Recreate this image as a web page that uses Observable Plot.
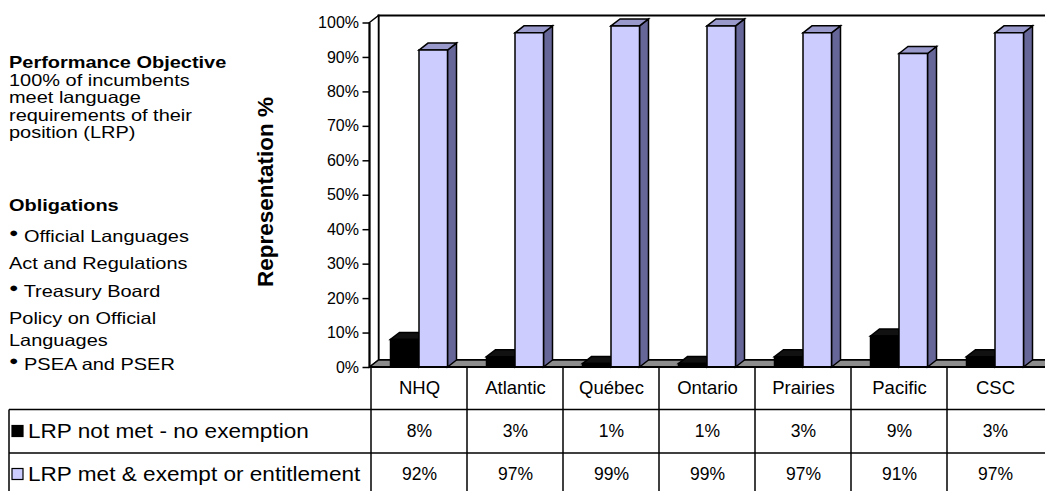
<!DOCTYPE html>
<html>
<head>
<meta charset="utf-8">
<script src="https://cdn.jsdelivr.net/npm/d3@7"></script>
<script src="https://cdn.jsdelivr.net/npm/@observablehq/plot@0.6"></script>
<style>
  html, body { margin: 0; padding: 0; background: #fff; }
  #chart { width: 1045px; height: 491px; overflow: hidden; }
  #chart svg g[aria-label="y-axis tick"] { stroke-width: 1.5px; }
</style>
</head>
<body>
<div id="chart"></div>
<script>
// Regions and language-requirement results (% of incumbents)
const regions = ["NHQ", "Atlantic", "Québec", "Ontario", "Prairies", "Pacific", "CSC"];
const notMet = [8, 3, 1, 1, 3, 9, 3];
const met = [92, 97, 99, 99, 97, 91, 97];
const seriesNames = ["LRP not met - no exemption", "LRP met & exempt or entitlement"];
const yTicks = [0, 10, 20, 30, 40, 50, 60, 70, 80, 90, 100];
const yTitle = "Representation %";

// Side notes
const objectiveTitle = "Performance Objective";
const objectiveLines = ["100% of incumbents", "meet language", "requirements of their", "position (LRP)"];
const obligationsTitle = "Obligations";
const obligations = [
  ["Official Languages", "Act and Regulations"],
  ["Treasury Board", "Policy on Official", "Languages"],
  ["PSEA and PSER"]
];

const W = 1045, H = 491;
const DX = 9, DY = -7;          // depth offset of the 3-D columns
const BW = 28.5;                // column face width
const FONT = "'Liberation Sans', Arial, Helvetica, sans-serif";
const NOTE_WIDEN = 1.21;        // notes are set in a slightly widened face
const KEY_WIDEN = 1.13;

const shades = [
  {front: "#000000", top: "#111111", side: "#000000"},
  {front: "#CCCCFF", top: "#9999CC", side: "#666699"}
];

const rows = regions.flatMap((region, i) => [
  {region, series: 0, value: notMet[i]},
  {region, series: 1, value: met[i]}
]);

// 3-D walls, floor, columns and data-table grid
function scene(index, scales, values, dims) {
  const {x, y} = scales;
  const {width, marginLeft} = dims;
  const bw = x.bandwidth ? x.bandwidth() : (width - marginLeft) / regions.length;
  const x0 = marginLeft, x1 = width + 20;
  const yTop = y(100), yBase = y(0);
  const g = d3.create("svg:g").attr("stroke", "#000").attr("stroke-linejoin", "miter");
  const poly = (pts, fill, sw = 1.5) => g.append("polygon")
    .attr("points", pts.map(p => p.join(",")).join(" "))
    .attr("fill", fill).attr("stroke-width", sw);

  poly([[x0 + DX, yTop + DY], [x1, yTop + DY], [x1, yBase + DY], [x0 + DX, yBase + DY]], "#fff", 2);
  poly([[x0, yTop], [x0 + DX, yTop + DY], [x0 + DX, yBase + DY], [x0, yBase]], "#fff", 1.5);
  poly([[x0, yBase], [x0 + DX, yBase + DY], [x1, yBase + DY], [x1, yBase]], "#8c8c8c", 1.5);
  g.append("line").attr("x1", x0).attr("x2", x0).attr("y1", yTop).attr("y2", yBase).attr("stroke-width", 2);

  regions.forEach((r, i) => {
    const m = x(r) + bw / 2;
    [[notMet[i], m - BW, m, shades[0]], [met[i], m, m + BW, shades[1]]].forEach(([v, xl, xr, c]) => {
      const yt = y(v);
      poly([[xr, yt], [xr + DX, yt + DY], [xr + DX, yBase + DY], [xr, yBase]], c.side);
      poly([[xl, yt], [xl + DX, yt + DY], [xr + DX, yt + DY], [xr, yt]], c.top);
      poly([[xl, yt], [xr, yt], [xr, yBase], [xl, yBase]], c.front);
    });
  });

  // data table grid
  const tLeft = 9, r1 = 409.5, r2 = 453;
  g.append("line").attr("x1", x0).attr("x2", x1).attr("y1", yBase).attr("y2", yBase).attr("stroke-width", 2);
  [r1, r2].forEach(yy => g.append("line").attr("x1", tLeft).attr("x2", x1).attr("y1", yy).attr("y2", yy).attr("stroke-width", 1.5));
  g.append("line").attr("x1", tLeft).attr("x2", tLeft).attr("y1", r1).attr("y2", H + 5).attr("stroke-width", 1.5);
  regions.forEach(r => g.append("line").attr("x1", x(r)).attr("x2", x(r)).attr("y1", yBase).attr("y2", H + 5).attr("stroke-width", 1.5));

  // legend keys and row labels
  [431, 474].forEach((cy, s) => {
    g.append("rect").attr("x", 12).attr("y", cy - 5.5).attr("width", 11).attr("height", 11)
      .attr("fill", shades[s].front).attr("stroke-width", 1.2);
    g.append("text").attr("transform", `translate(28,${cy}) scale(${KEY_WIDEN},1)`).attr("dy", "0.36em")
      .attr("stroke", "none").attr("fill", "#000").attr("text-anchor", "start")
      .attr("font-family", FONT).attr("font-size", 20).text(seriesNames[s]);
  });
  return g.node();
}

// Left-hand notes and the rotated value-axis title
function notes() {
  const g = d3.create("svg:g").attr("font-family", FONT).attr("fill", "#000").attr("text-anchor", "start");
  const tx = 9;
  const line = (text, cy, bold) => g.append("text")
    .attr("transform", `translate(${tx},${cy}) scale(${NOTE_WIDEN},1)`).attr("dy", "0.36em")
    .attr("font-size", 16.5).attr("font-weight", bold ? "bold" : null).text(text);
  line(objectiveTitle, 62, true);
  objectiveLines.forEach((t, i) => line(t, 80 + i * 17.5));
  line(obligationsTitle, 205, true);
  const starts = [241, 296, 369];
  const gaps = 22;
  obligations.forEach((para, p) => {
    para.forEach((t, j) => {
      const el = line("", starts[p] + j * gaps);
      if (j === 0) {
        el.append("tspan").attr("font-size", 13).attr("dy", "-0.3em").text("\u25CF");
        el.append("tspan").attr("dy", "0.3em").text(" " + t);
      } else {
        el.text(t);
      }
    });
  });
  g.append("text")
    .attr("transform", `translate(265,192) rotate(-90)`)
    .attr("text-anchor", "middle").attr("dy", "0.36em")
    .attr("font-size", 22.5).attr("font-weight", "bold").text(yTitle);
  return g.node();
}

const cell = {frameAnchor: "bottom", lineAnchor: "middle", fill: "#000"};

const plot = Plot.plot({
  width: W,
  height: H,
  marginLeft: 369.5,
  marginRight: 0,
  marginTop: 22.5,
  marginBottom: H - 367,
  style: {fontFamily: FONT, fontSize: "16px", background: "#fff", color: "#000", overflow: "hidden"},
  x: {type: "band", domain: regions, padding: 0, axis: null},
  y: {domain: [0, 100], ticks: yTicks, tickFormat: d => d + "%", tickSize: 7, tickPadding: 4, label: null},
  marks: [
    scene,
    notes,
    Plot.text(regions, {...cell, x: d => d, text: d => d, dy: 21, fontSize: 18.5}),
    Plot.text(rows.filter(d => d.series === 0), {...cell, x: "region", text: d => d.value + "%", dy: 64, fontSize: 17.5}),
    Plot.text(rows.filter(d => d.series === 1), {...cell, x: "region", text: d => d.value + "%", dy: 107, fontSize: 17.5})
  ]
});

plot.style.display = "block";
plot.style.maxWidth = "none";
document.getElementById("chart").appendChild(plot);
</script>
</body>
</html>
